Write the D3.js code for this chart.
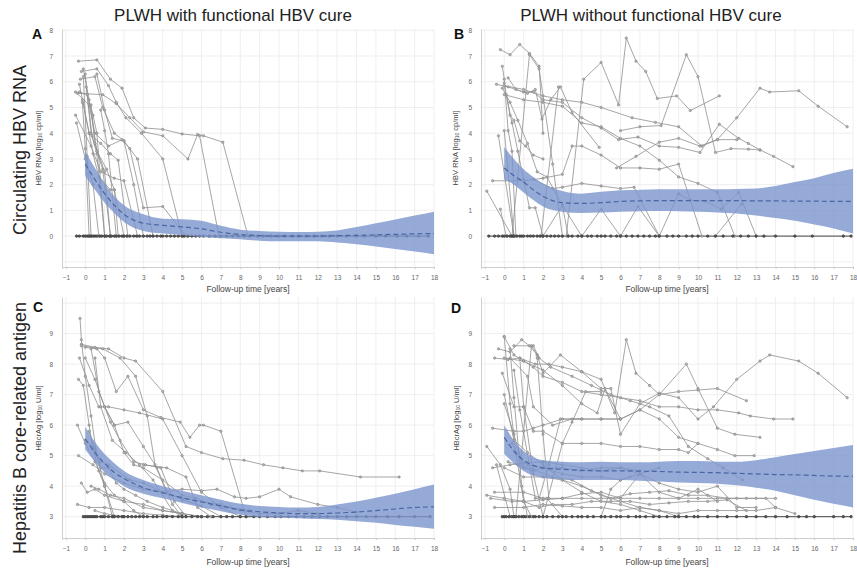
<!DOCTYPE html>
<html><head><meta charset="utf-8">
<script src="https://cdn.jsdelivr.net/npm/d3@7"></script>
<style>body{margin:0;background:#fff;} svg{display:block;font-family:"Liberation Sans",Arial,sans-serif;}</style>
</head><body><svg id="c" width="857" height="569"></svg>
<script>
// ---------- DATA ----------
const columnTitles = ["PLWH with functional HBV cure", "PLWH without functional HBV cure"];
const rowTitles = ["Circulating HBV RNA", "Hepatitis B core-related antigen"];
const xTickValues = [-1,0,1,2,3,4,5,6,7,8,9,10,11,12,13,14,15,16,17,18];
const yTicksRNA = [0,1,2,3,4,5,6,7,8];
const yTicksAg = [3,4,5,6,7,8,9];
const bandTimes = [0,0.5,1,1.5,2,3,4,5,6,7,8,9,10,11,12,13,14,15,16,17,18];

const bandA_hi   = [3.3,2.65,2.05,1.55,1.2,0.85,0.68,0.66,0.6,0.4,0.25,0.2,0.17,0.16,0.17,0.22,0.35,0.5,0.65,0.8,0.95];
const bandA_mean = [2.8,2.2,1.65,1.2,0.85,0.5,0.42,0.36,0.28,0.15,0.06,0.02,0.0,0.0,0.0,0.02,0.03,0.05,0.07,0.09,0.1];
const bandA_lo   = [2.35,1.8,1.3,0.9,0.55,0.2,0.1,0.04,-0.03,-0.08,-0.12,-0.18,-0.2,-0.2,-0.2,-0.25,-0.32,-0.4,-0.5,-0.6,-0.7];

const bandB_hi   = [3.45,3.0,2.6,2.3,2.05,1.75,1.65,1.72,1.78,1.8,1.82,1.82,1.82,1.82,1.83,1.85,1.95,2.1,2.25,2.45,2.62];
const bandB_mean = [2.65,2.35,2.1,1.8,1.55,1.3,1.27,1.3,1.35,1.37,1.38,1.38,1.38,1.38,1.38,1.37,1.37,1.36,1.36,1.35,1.35];
const bandB_lo   = [2.2,2.0,1.7,1.4,1.15,0.95,0.9,0.92,0.95,0.97,0.98,0.97,0.95,0.92,0.88,0.8,0.7,0.6,0.45,0.3,0.1];

const bandC_hi   = [5.95,5.45,5.05,4.75,4.5,4.2,4.0,3.85,3.7,3.55,3.42,3.35,3.32,3.3,3.32,3.4,3.5,3.62,3.75,3.9,4.05];
const bandC_mean = [5.55,5.1,4.75,4.45,4.25,3.95,3.78,3.62,3.48,3.35,3.22,3.16,3.12,3.1,3.1,3.12,3.15,3.2,3.25,3.3,3.32];
const bandC_lo   = [5.2,4.8,4.45,4.2,4.0,3.75,3.6,3.45,3.3,3.18,3.06,2.99,2.96,2.95,2.92,2.9,2.85,2.8,2.73,2.67,2.6];

const bandD_hi   = [6.0,5.5,5.15,4.95,4.85,4.8,4.78,4.8,4.78,4.78,4.8,4.82,4.82,4.8,4.8,4.85,4.95,5.05,5.15,5.25,5.35];
const bandD_mean = [5.6,5.15,4.85,4.68,4.6,4.55,4.52,4.5,4.5,4.49,4.48,4.46,4.45,4.44,4.42,4.4,4.38,4.37,4.35,4.33,4.32];
const bandD_lo   = [5.05,4.75,4.5,4.35,4.28,4.22,4.2,4.2,4.2,4.18,4.15,4.12,4.1,4.08,4.03,3.95,3.85,3.7,3.55,3.42,3.3];

const trajA = [
 [[-0.4,5.55],[0.9,5.5],[1.6,5.15],[2.3,4.6],[3.0,4.05],[4.0,3.9],[5.3,3.0],[5.8,3.95],[6.1,3.9],[7.1,3.65],[8.4,0]],
 [[-0.35,6.8],[0.6,6.85],[1.3,6.1],[1.9,5.75],[2.5,4.6],[3.1,4.2],[4.0,4.15],[5.0,3.97],[5.9,3.9],[6.9,0]],
 [[-0.2,6.4],[0.6,6.5],[1.2,5.85],[1.6,5.2],[2.1,4.6],[2.9,4.0],[4.0,3.0],[5.0,0]],
 [[-0.25,6.1],[0.5,6.2],[0.9,5.0],[1.5,4.0],[2.0,3.7],[2.7,3.0],[3.5,0]],
 [[-0.5,5.6],[0.2,5.1],[0.5,4.0],[1.2,3.5],[1.9,3.75],[2.3,3.4],[3.0,1.1],[4.0,1.15],[5.2,0]],
 [[-0.5,4.7],[0.3,3.5],[0.8,2.5],[1.5,2.25],[2.0,2.15],[2.7,0]],
 [[-0.45,4.4],[0.0,3.0],[0.4,2.0],[0.7,0]],
 [[-0.3,5.9],[0.2,4.0],[0.4,3.2],[0.7,2.3],[1.3,1.8],[1.5,1.8],[1.7,0]],
 [[-0.15,5.3],[0.2,4.0],[0.8,3.6],[1.3,3.2],[1.7,2.95],[2.2,0]],
 [[-0.1,6.2],[0.1,3.1],[0.3,0]],
 [[-0.15,5.2],[0.0,3.4],[0.2,0]],
 [[0.0,6.3],[0.3,4.0],[0.6,3.2],[1.0,0]],
 [[0.05,5.8],[0.35,3.9],[0.9,2.6],[1.3,0]],
 [[0.3,5.1],[0.5,3.6],[1.0,2.5],[1.3,0]],
 [[0.8,4.9],[1.0,4.1],[1.2,3.2],[1.6,0]],
 [[-0.1,6.5],[0.2,5.3],[0.6,3.3],[1.1,2.6],[1.5,1.8],[2.0,0]],
 [[-0.3,5.6],[0.1,5.5],[0.4,4.7],[0.6,4.0],[1.0,0]],
 [[0.6,6.3],[1.0,4.9],[1.4,3.8],[2.0,3.7],[2.5,2.0],[3.0,0]]
];

const trajB = [
 [[-0.2,7.25],[0.3,7.05],[0.8,7.45],[1.3,7.1],[1.8,6.6],[2.0,4.0]],
 [[-0.1,6.6],[0.0,6.1],[0.2,4.1],[0.4,3.3],[0.6,0]],
 [[-0.4,5.9],[0.2,5.8],[1.0,5.6],[1.5,5.6],[2.0,5.3],[3.0,5.2],[4.0,4.6],[5.0,4.2],[5.9,3.75],[6.9,3.85],[8.0,3.5],[9.0,3.45],[10.1,3.25],[11.1,4.35],[12.1,3.8],[12.6,3.6],[13.2,3.35]],
 [[0.0,5.5],[1.0,5.3],[2.0,5.2],[3.0,5.05],[4.0,4.4],[5.0,4.25],[6.0,3.8],[7.0,3.5],[8.0,2.95],[9.0,2.3],[10.0,2.05],[11.0,1.7],[11.9,0]],
 [[0.0,5.85],[1.0,5.7],[2.0,5.45],[3.0,5.3],[4.0,5.2],[5.0,5.0],[6.6,4.6],[7.8,4.42],[9.0,4.25],[10.2,3.5],[11.0,3.75],[12.0,3.75]],
 [[3.2,0],[4.1,6.1],[5.0,6.75],[5.9,5.1],[6.3,7.7],[6.8,6.8],[7.3,6.4],[7.9,5.35],[8.9,5.45],[9.6,4.88],[11.1,5.45]],
 [[6.0,4.1],[7.0,4.25],[8.1,4.3],[9.4,7.05],[10.0,6.2],[10.9,3.25],[11.7,3.4],[12.6,3.38],[13.2,3.35],[13.9,3.1],[14.9,2.7]],
 [[5.8,2.65],[6.8,3.1],[8.0,3.65],[9.0,3.8],[10.1,3.5],[11.0,3.75],[12.0,4.6],[13.2,5.75],[13.7,5.6],[15.2,5.65],[16.2,5.05],[17.7,4.25]],
 [[-0.6,2.15],[1.0,2.15],[2.0,2.25],[3.0,2.4],[3.5,3.5],[4.0,3.5],[5.0,3.15],[6.0,2.65],[7.0,2.65],[8.0,2.6],[9.0,2.8],[10.2,0]],
 [[1.5,2.2],[2.5,1.85],[3.0,1.9],[4.0,2.05],[5.0,1.95],[6.0,1.85],[6.7,1.9],[8.0,0]],
 [[4.0,0],[5.0,1.05],[6.0,0]],
 [[6.0,0],[6.9,1.15],[8.0,0]],
 [[8.0,0],[9.0,1.65],[9.6,1.4],[10.4,1.35],[11.2,1.05],[12.1,1.7],[13.0,0]],
 [[10.9,0],[12.25,1.25]],
 [[-0.9,1.75],[0.4,0]],
 [[-0.3,3.9],[0.5,0]],
 [[-0.2,1.05],[0.1,0]],
 [[0.2,6.15],[0.6,5.7],[1.2,5.55],[1.6,5.7],[1.95,4.55],[2.4,5.3],[2.9,5.8],[3.5,4.8],[4.9,3.45]],
 [[0.0,5.95],[0.3,4.7],[0.5,4.5],[0.8,3.7],[1.1,3.5],[1.5,3.15],[2.0,3.0]],
 [[0.1,5.5],[0.4,4.4],[0.7,3.3],[1.0,2.2],[1.3,1.1],[1.6,1.1],[2.0,0]],
 [[0.4,0],[1.3,7.05],[1.8,6.5],[2.5,2.8],[3.0,0]],
 [[1.9,0],[2.8,5.8]],
 [[0.0,4.1],[0.5,0]],
 [[-0.1,5.75],[0.3,5.2],[0.7,4.5],[1.2,3.6],[1.7,2.5],[2.2,2.3],[3.0,1.2],[3.3,0]],
 [[2.0,0],[3.0,1.2],[4.0,0]]
];

const trajC = [
 [[-0.2,8.65],[0.5,8.55],[1.2,8.5],[2.0,8.2],[2.6,8.1],[4.0,7.1],[5.2,5.3],[6.0,5.1],[7.1,4.9],[8.2,4.85],[9.2,4.7],[10.2,4.6],[11.2,4.5],[12.1,4.5],[14.2,4.3],[16.2,4.3]],
 [[0.0,8.55],[0.6,8.5],[1.0,8.2],[1.6,7.1],[2.2,7.6],[3.0,6.5],[3.9,6.25],[4.9,6.1],[5.4,5.6],[5.9,6.0],[6.1,6.0],[7.0,5.8],[8.3,3.0]],
 [[-0.2,8.6],[0.9,8.5],[1.8,8.2],[2.6,7.6],[3.2,6.3],[3.6,4.7],[4.2,3.8],[5.0,3.55],[6.0,3.35],[7.0,3.0]],
 [[-0.3,8.2],[0.2,7.3],[0.7,6.6],[1.2,6.6],[2.0,6.5],[2.8,6.4],[4.0,6.2],[5.0,5.0],[6.0,3.8],[7.0,3.3],[8.0,3.0]],
 [[-0.27,9.5],[-0.2,8.8],[0.0,7.6],[0.3,6.3],[0.6,5.0],[1.0,4.0],[1.4,3.0]],
 [[-0.35,7.5],[-0.1,7.3],[0.2,6.0],[0.4,5.2],[0.7,4.5],[1.0,4.0],[1.5,3.0]],
 [[0.0,8.2],[0.5,7.5],[1.0,6.6],[1.5,6.0],[2.2,6.1],[3.0,5.3],[3.7,4.6],[4.5,3.4],[5.0,3.0]],
 [[0.3,8.5],[0.7,7.1],[1.3,6.1],[1.8,5.5],[2.5,4.8],[3.1,4.7],[3.9,4.6],[4.6,3.5],[5.2,3.0]],
 [[0.5,8.2],[0.8,6.6],[1.4,5.5],[2.1,5.1],[2.8,4.7],[3.5,4.2],[4.5,3.2],[5.0,3.0]],
 [[-0.4,6.0],[0.0,5.4],[0.5,4.8],[1.0,4.1],[1.5,3.7],[2.0,3.5],[2.5,3.2],[3.0,3.0]],
 [[-0.35,5.0],[0.4,4.7],[1.0,4.4],[2.0,4.1],[3.0,3.9],[4.0,3.8],[5.0,3.9],[6.0,3.85],[6.8,3.9],[7.7,3.65],[8.3,3.6],[9.0,3.65],[10.0,3.9],[10.6,3.65],[12.0,3.4],[13.0,3.3],[14.0,3.15]],
 [[-0.2,4.1],[0.1,3.8],[0.5,3.9],[1.0,3.7],[2.0,3.5],[3.0,3.4],[4.0,3.2],[5.0,3.1],[6.0,3.0]],
 [[-0.4,3.4],[0.2,3.3],[1.0,3.3],[2.0,3.2],[3.0,3.1],[4.0,3.05],[5.0,3.0]],
 [[0.2,5.8],[0.5,5.2],[0.8,4.6],[1.2,4.6],[1.6,4.1],[2.0,3.9],[2.6,3.7],[3.2,3.5],[4.0,3.3],[5.0,3.1],[6.0,3.0]],
 [[1.0,6.6],[1.5,6.0],[2.0,5.1],[2.5,4.7],[3.0,4.6],[4.0,4.2],[5.0,3.7],[5.7,3.6],[6.5,3.4],[7.5,3.3],[8.5,3.2]],
 [[3.0,4.7],[4.2,4.6],[5.2,4.3],[5.8,3.3],[6.5,3.0]],
 [[0.0,5.5],[0.4,5.3],[0.8,4.8],[1.2,4.7],[2.3,4.2],[3.0,4.1],[4.0,3.8],[5.0,3.6],[6.0,3.5],[7.0,3.4],[8.0,3.2],[9.0,3.1],[10.0,3.1],[11.0,3.2],[12.0,3.1]],
 [[0.5,3.2],[1.0,3.1],[2.0,3.0]],
 [[0.3,4.0],[0.7,3.9],[1.3,3.7],[2.0,3.6],[3.0,3.3],[4.0,3.2],[5.0,3.1]]
];

const trajD = [
 [[-0.3,8.5],[0.3,8.4],[0.9,8.8],[1.3,8.6],[1.7,8.3],[2.0,7.7],[2.9,8.3],[4.0,7.75],[5.0,7.5],[5.7,6.4],[6.3,8.8],[6.8,7.7],[7.5,7.3],[8.0,7.0],[9.4,8.0],[10.0,7.2],[11.0,5.9],[11.9,5.7],[13.2,5.6]],
 [[-0.5,8.2],[0.2,8.15],[0.8,8.2],[1.6,8.0],[2.3,8.0],[3.0,7.9],[4.0,7.75],[5.0,7.2],[5.5,7.2],[6.0,5.7],[7.0,6.7],[8.0,7.05],[9.0,6.9],[10.0,6.2],[10.8,6.6],[12.0,7.5],[13.2,8.1],[13.7,8.3],[15.2,8.1],[16.2,7.7],[17.7,6.9]],
 [[0.0,8.9],[0.5,8.3],[1.0,8.1],[1.5,7.9],[2.0,7.6],[3.0,7.4],[4.0,7.1],[5.0,7.0],[6.0,6.9],[7.0,6.8],[8.0,6.6],[9.0,6.6],[10.0,6.5],[11.0,6.5],[12.1,6.4],[12.7,6.3],[13.9,6.2],[14.9,6.2]],
 [[0.0,8.2],[1.0,8.1],[2.0,7.8],[3.0,7.3],[4.0,6.7],[4.8,6.4],[5.2,7.2],[6.0,6.2],[7.0,6.5],[8.0,7.0],[9.0,7.1],[10.0,7.15],[11.0,7.2],[12.5,6.8]],
 [[0.3,8.2],[1.2,7.6],[1.5,6.6],[2.5,6.0],[3.5,6.2],[5.0,6.2],[6.0,6.2],[7.0,6.5],[8.0,6.2],[9.0,5.6],[10.0,5.4],[11.0,5.2],[11.9,5.0],[12.9,5.0]],
 [[0.5,8.6],[1.5,8.6],[1.8,8.2],[2.4,7.9],[3.5,7.6],[4.5,7.3],[5.5,7.0],[6.5,6.8],[7.5,6.6],[8.5,6.3],[9.5,5.3],[10.5,4.9],[11.3,4.6],[12.3,4.2]],
 [[-0.1,7.7],[0.5,6.6],[1.0,6.6],[1.5,5.8],[2.0,5.8],[3.0,5.4],[4.0,5.4],[5.0,5.4],[6.0,5.3],[7.0,5.3],[8.0,5.2],[9.0,5.2],[9.5,5.1],[10.0,5.4]],
 [[-0.6,5.9],[0.5,5.8],[1.0,5.8],[1.5,5.9],[2.0,6.0],[3.0,6.2],[4.0,6.2],[5.0,6.2],[6.0,6.2]],
 [[0.0,6.7],[0.5,5.7],[1.0,4.6],[1.5,4.5],[2.0,4.6],[3.0,4.4],[4.0,4.3],[5.0,4.3],[6.0,4.2],[6.5,4.3]],
 [[-0.9,5.3],[-0.2,4.7],[0.3,3.9],[0.5,3.0]],
 [[-0.4,4.7],[0.3,3.0]],
 [[0.4,5.4],[0.8,4.9],[1.2,4.7],[2.0,4.6],[3.0,4.6],[4.0,4.5],[5.0,4.6],[6.0,4.6],[7.0,4.4],[8.0,4.6]],
 [[-0.9,3.7],[0.0,3.6],[1.0,3.5],[2.0,3.55],[3.0,3.6],[4.0,3.75],[5.0,3.8],[6.0,3.6],[7.0,4.4],[8.0,4.1],[9.0,3.9],[10.0,3.8],[11.0,4.0],[12.0,3.3],[13.0,3.3]],
 [[-0.5,3.8],[1.0,3.8],[2.0,3.6],[3.0,3.6],[4.0,3.6],[5.0,3.6],[6.0,3.6],[7.0,3.6],[8.0,3.6],[9.0,3.6],[10.0,3.6],[11.0,3.6],[12.0,3.6],[13.0,3.6],[14.0,3.6]],
 [[-0.5,3.3],[1.0,3.3],[2.0,3.4],[3.0,3.35],[4.0,3.3],[5.0,3.3],[6.0,3.2],[7.0,3.3],[8.0,3.2],[9.0,3.1],[10.0,3.2],[11.0,3.2],[12.0,3.2],[13.0,3.2],[14.0,3.3],[15.0,3.1]],
 [[-0.7,3.6],[0.4,3.5],[1.0,3.5],[1.8,3.3],[2.5,3.4],[3.5,3.4],[4.5,3.5],[5.5,3.5],[6.5,3.5],[7.5,3.4],[8.5,3.45],[9.5,3.5],[10.5,3.5],[11.5,3.55],[12.5,3.2]],
 [[0.0,4.6],[1.0,4.3],[2.0,4.3],[3.0,4.2],[4.0,4.0],[5.0,3.7],[6.0,3.5],[7.0,3.3],[8.0,3.2],[9.0,3.0]],
 [[0.2,4.8],[0.7,4.7],[1.5,4.55],[2.5,4.3],[3.5,4.2],[4.5,3.85],[5.5,3.6],[6.5,3.75],[7.5,3.8],[8.5,3.85],[9.5,3.7],[10.5,3.7],[11.5,3.6],[12.5,3.6],[13.5,3.6],[14.0,3.3]],
 [[0.6,3.0],[1.4,8.6],[1.7,8.3]],
 [[2.0,3.0],[3.0,5.4],[3.5,6.1],[4.2,7.1],[5.0,7.1]],
 [[1.8,3.6],[2.3,4.7],[2.9,6.2],[4.0,6.2]],
 [[0.0,8.9],[0.3,6.7],[0.6,5.1],[1.0,3.5],[1.4,3.0]],
 [[0.3,8.5],[0.5,6.9],[0.9,4.0],[1.2,3.0]],
 [[0.8,8.2],[1.0,6.6],[1.5,4.4],[2.0,3.0]],
 [[1.7,8.2],[2.0,5.7],[2.3,3.6]],
 [[0.5,7.8],[0.8,6.5],[1.6,3.6],[2.2,3.6],[3.0,3.0]],
 [[0.0,7.0],[0.5,5.5],[1.2,5.1],[2.0,4.7],[3.0,4.2],[4.0,3.8],[5.0,3.5],[6.0,3.4],[7.0,3.2],[8.0,3.0]],
 [[5.0,3.0],[5.5,3.9],[6.0,4.2],[7.0,4.4],[8.0,3.8],[9.0,3.6],[10.0,3.9],[11.0,3.5]],
 [[-0.6,4.6],[0.3,4.7],[1.0,4.75],[2.0,4.8],[3.0,4.7],[4.0,4.6],[5.0,4.5],[6.0,4.6],[7.0,4.5]]
];

// times of measurements at the lower limit (0 log for RNA, 3 log for HBcrAg)
const baseA = [-0.45,-0.3,-0.1,0.0,0.1,0.2,0.3,0.4,0.5,0.6,0.75,0.85,1.0,1.1,1.25,1.35,1.5,1.6,1.75,1.9,2.0,2.15,2.3,2.5,2.65,2.8,3.0,3.2,3.35,3.5,3.7,3.9,4.0,4.2,4.4,4.6,4.8,5.0,5.1,5.3,5.5,5.7,5.9,6.1,6.4,6.7,7.0,7.3,7.6,7.9,8.2,8.5,8.9,9.2,9.6,10.0,10.3,10.7,11.0,11.4,11.8,12.2,12.6,13.0,13.5,14.0,14.4,15.0,15.5,16.1,16.6,17.2,17.7];
const baseB = [-0.8,-0.5,-0.3,-0.1,0.0,0.15,0.3,0.4,0.5,0.65,0.8,0.9,1.0,1.2,1.35,1.5,1.7,1.85,2.0,2.2,2.4,2.6,2.8,3.0,3.3,3.5,3.8,4.0,4.3,4.5,4.8,5.0,5.2,5.5,5.8,6.0,6.3,6.6,6.9,7.2,7.5,7.8,8.0,8.4,8.7,9.0,9.4,9.7,10.0,10.5,10.9,11.3,11.8,12.2,12.6,13.0,13.4,14.0,15.0,15.9,17.5,17.9];
const baseC = [-0.1,0.0,0.1,0.2,0.3,0.4,0.5,0.6,0.8,0.9,1.0,1.2,1.4,1.5,1.7,1.9,2.0,2.2,2.4,2.6,2.8,3.0,3.2,3.5,3.7,4.0,4.2,4.5,4.8,5.0,5.2,5.5,5.8,6.0,6.3,6.6,7.0,7.3,7.6,8.0,8.3,8.7,9.0,9.4,9.8,10.1,10.5,10.9,11.3,11.7,12.1,12.5,13.0,13.5,14.0,14.5,15.0,15.6,16.2,17.0,17.8];
const baseD = [-0.1,0.0,0.1,0.25,0.4,0.5,0.6,0.75,0.9,1.0,1.1,1.3,1.5,1.6,1.8,2.0,2.2,2.5,2.8,3.0,3.2,3.5,3.8,4.0,4.3,4.6,5.0,5.2,5.5,5.8,6.0,6.4,6.8,7.0,7.3,7.7,8.0,8.4,8.8,9.0,9.4,9.8,10.0,10.5,11.0,11.5,12.0,12.5,13.0,13.5,14.0,14.6,15.2,15.6,16.0,17.0,17.5,17.9];

// ---------- LAYOUT ----------
const svg = d3.select('#c');
const FONT = '"Liberation Sans", Arial, sans-serif';

const panels = [
 {letter:'A', l:62,  r:434, t:29,  b:267, yDom:[-1.2,8.05], yTicks:yTicksRNA, traj:trajA, base:baseA, baseVal:0,
  hi:bandA_hi, mean:bandA_mean, lo:bandA_lo, lx:37, ly:34, ylab:'rna', ylx:38, yly:148, xly:289},
 {letter:'B', l:481, r:853, t:29,  b:267, yDom:[-1.2,8.05], yTicks:yTicksRNA, traj:trajB, base:baseB, baseVal:0,
  hi:bandB_hi, mean:bandB_mean, lo:bandB_lo, lx:459, ly:34, ylab:'rna', ylx:455, yly:148, xly:289},
 {letter:'C', l:62,  r:434, t:297, b:538, yDom:[2.3,10.2], yTicks:yTicksAg, traj:trajC, base:baseC, baseVal:3,
  hi:bandC_hi, mean:bandC_mean, lo:bandC_lo, lx:38, ly:307, ylab:'ag', ylx:38, yly:418, xly:562},
 {letter:'D', l:481, r:853, t:297, b:538, yDom:[2.3,10.2], yTicks:yTicksAg, traj:trajD, base:baseD, baseVal:3,
  hi:bandD_hi, mean:bandD_mean, lo:bandD_lo, lx:456, ly:308, ylab:'ag', ylx:456, yly:418, xly:562}
];

panels.forEach(p => {
  const x = d3.scaleLinear().domain([-1.2,18]).range([p.l,p.r]);
  const y = d3.scaleLinear().domain(p.yDom).range([p.b,p.t]);
  const g = svg.append('g');

  // grid
  g.append('g').selectAll('line').data(xTickValues).join('line')
    .attr('x1',d=>x(d)).attr('x2',d=>x(d)).attr('y1',p.t).attr('y2',p.b)
    .attr('stroke','#ebebeb').attr('stroke-width',0.8);
  const gridY = d3.range(Math.ceil(p.yDom[0]), Math.floor(p.yDom[1])+1);
  g.append('g').selectAll('line').data(gridY).join('line')
    .attr('x1',p.l).attr('x2',p.r).attr('y1',d=>y(d)).attr('y2',d=>y(d))
    .attr('stroke','#ebebeb').attr('stroke-width',0.8);

  // axes
  const xa = g.append('g').attr('transform',`translate(0,${p.b})`)
    .call(d3.axisBottom(x).tickValues(xTickValues).tickSize(2).tickPadding(6).tickFormat(d3.format('d')));
  const ya = g.append('g').attr('transform',`translate(${p.l},0)`)
    .call(d3.axisLeft(y).tickValues(p.yTicks).tickSize(0).tickPadding(9).tickFormat(d3.format('d')));
  [xa,ya].forEach(a => {
    a.select('.domain').attr('stroke','#c8c8c8').attr('stroke-width',0.9);
    a.selectAll('.tick line').attr('stroke','#c8c8c8');
    a.selectAll('.tick text').attr('fill','#666').style('font-size','6.5px').style('font-family',FONT);
  });

  // trajectories
  const line = d3.line().x(d=>x(d[0])).y(d=>y(d[1]));
  g.append('g').selectAll('path').data(p.traj).join('path')
    .attr('d',line).attr('fill','none').attr('stroke','#8f8f8f').attr('stroke-width',0.8);
  // baseline
  const bpts = p.base.map(t=>[t,p.baseVal]);
  g.append('path').attr('d',line(bpts)).attr('fill','none').attr('stroke','#666').attr('stroke-width',1.1);
  // markers
  const pts = p.traj.flat();
  g.append('g').selectAll('circle').data(pts).join('circle')
    .attr('cx',d=>x(d[0])).attr('cy',d=>y(d[1])).attr('r',1.2)
    .attr('fill','#b5b5b5').attr('stroke','#777').attr('stroke-width',0.5);
  g.append('g').selectAll('circle').data(bpts).join('circle')
    .attr('cx',d=>x(d[0])).attr('cy',d=>y(d[1])).attr('r',1.3)
    .attr('fill','#555').attr('stroke','#333').attr('stroke-width',0.5);

  // confidence band
  const bandData = bandTimes.map((t,i)=>({t, hi:p.hi[i], lo:p.lo[i], m:p.mean[i]}));
  const area = d3.area().x(d=>x(d.t)).y0(d=>y(d.lo)).y1(d=>y(d.hi)).curve(d3.curveMonotoneX);
  g.append('path').attr('d',area(bandData)).attr('fill','#7b95cc').attr('fill-opacity',0.8);
  const ml = d3.line().x(d=>x(d.t)).y(d=>y(d.m)).curve(d3.curveMonotoneX);
  g.append('path').attr('d',ml(bandData)).attr('fill','none').attr('stroke','#4a67a3')
    .attr('stroke-width',1.2).attr('stroke-dasharray','5,3');

  // panel letter
  g.append('text').attr('x',p.lx).attr('y',p.ly).attr('text-anchor','middle').attr('dominant-baseline','central')
    .style('font-family',FONT).style('font-weight','bold').style('font-size','14px').attr('fill','#111').text(p.letter);

  // x label
  g.append('text').attr('x',(p.l+p.r)/2).attr('y',p.xly).attr('text-anchor','middle').attr('dominant-baseline','central')
    .style('font-family',FONT).style('font-size','8.5px').attr('fill','#444').text('Follow-up time [years]');

  // y label
  const yl = g.append('text').attr('transform',`translate(${p.ylx},${p.yly}) rotate(-90)`)
    .attr('text-anchor','middle').attr('dominant-baseline','central')
    .style('font-family',FONT).style('font-size','7.5px').attr('fill','#444');
  if (p.ylab==='rna') {
    yl.append('tspan').text('HBV RNA [log');
    yl.append('tspan').attr('dy',2).style('font-size','5px').text('10');
    yl.append('tspan').attr('dy',-2).text(' cp/ml]');
  } else {
    yl.append('tspan').text('HBcrAg [log');
    yl.append('tspan').attr('dy',2).style('font-size','5px').text('10');
    yl.append('tspan').attr('dy',-2).text(' U/ml]');
  }
});

// column titles
[[233,columnTitles[0]],[651,columnTitles[1]]].forEach(([cx,txt]) => {
  svg.append('text').attr('x',cx).attr('y',15).attr('text-anchor','middle').attr('dominant-baseline','central')
    .style('font-family',FONT).style('font-size','17px').attr('fill','#222').text(txt);
});
// row titles
[[150,rowTitles[0]],[428,rowTitles[1]]].forEach(([cy,txt]) => {
  svg.append('text').attr('transform',`translate(20,${cy}) rotate(-90)`).attr('text-anchor','middle')
    .attr('dominant-baseline','central').style('font-family',FONT).style('font-size','18px').attr('fill','#222').text(txt);
});
</script></body></html>
